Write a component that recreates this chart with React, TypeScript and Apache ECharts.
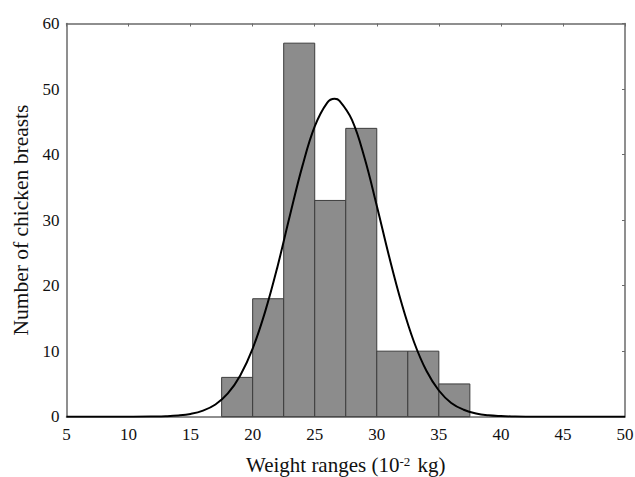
import React, { useEffect, useRef } from "react";
import * as echarts from "echarts";

const binStarts = [17.5, 20, 22.5, 25, 27.5, 30, 32.5, 35];
const binWidth = 2.5;
const counts = [6, 18, 57, 33, 44, 10, 10, 5];

const curveX = [5, 10, 12, 13, 14, 15, 16, 17, 18, 19, 20, 21, 22, 23, 24, 25, 26, 26.6, 27, 28, 29, 30, 31, 32, 33, 34, 35, 36, 37, 38, 39, 40, 41, 42, 45, 50];
const curveY = [0, 0, 0.03, 0.07, 0.18, 0.42, 0.92, 1.86, 3.55, 6.3, 10.4, 16.0, 22.9, 30.7, 38.2, 44.3, 47.9, 48.5, 48.2, 45.3, 39.6, 32.2, 24.4, 17.3, 11.4, 7.0, 4.0, 2.1, 1.06, 0.49, 0.21, 0.09, 0.03, 0, 0, 0];

const xTicks = [5, 10, 15, 20, 25, 30, 35, 40, 45, 50];
const yTicks = [0, 10, 20, 30, 40, 50, 60];

export default function App() {
  const ref = useRef<HTMLDivElement>(null);
  useEffect(() => {
    if (!ref.current) return;
    const chart = echarts.init(ref.current, undefined, { renderer: "svg" });
    const font = "'Liberation Serif', 'Times New Roman', serif";
    const axisLineColor = "#6a6a6a";
    const grid = { left: 66.5, top: 23.5, right: 10, bottom: 60.3, containLabel: false, outerBoundsMode: "none" };
    const barData = binStarts.map((s, i) => [s, s + binWidth, counts[i]]);
    const lineData = curveX.map((x, i) => [x, curveY[i]]);
    chart.setOption({
      animation: false,
      backgroundColor: "#ffffff",
      grid,
      xAxis: [
        {
          type: "value",
          min: xTicks[0],
          max: xTicks[xTicks.length - 1],
          interval: 5,
          position: "bottom",
          axisLine: { show: true, onZero: false, lineStyle: { color: axisLineColor, width: 1.5 } },
          axisTick: { show: false },
          splitLine: { show: false },
          axisLabel: { color: "#111", fontFamily: font, fontSize: 17, margin: 9 },
          name: "{n|Weight ranges (10}{s|-2}{n| kg)}",
          nameLocation: "middle",
          nameGap: 38,
          nameTextStyle: {
            rich: {
              n: { fontFamily: font, fontSize: 21, color: "#111" },
              s: { fontFamily: font, fontSize: 13, color: "#111", verticalAlign: "top", padding: [0, 2, 8, 0] },
            },
          },
        },
        {
          type: "value",
          min: xTicks[0],
          max: xTicks[xTicks.length - 1],
          interval: 5,
          position: "top",
          axisLine: { show: true, onZero: false, lineStyle: { color: axisLineColor, width: 1.5 } },
          axisTick: { show: true, inside: true, length: 3, lineStyle: { color: axisLineColor } },
          axisLabel: { show: false },
          splitLine: { show: false },
        },
      ],
      yAxis: [
        {
          type: "value",
          min: yTicks[0],
          max: yTicks[yTicks.length - 1],
          interval: 10,
          position: "left",
          axisLine: { show: true, onZero: false, lineStyle: { color: axisLineColor, width: 1.5 } },
          axisTick: { show: false },
          splitLine: { show: false },
          axisLabel: { color: "#111", fontFamily: font, fontSize: 17, margin: 7 },
          name: "Number of chicken breasts",
          nameLocation: "middle",
          nameGap: 34,
          nameTextStyle: { fontFamily: font, fontSize: 21.5, color: "#111" },
        },
        {
          type: "value",
          min: yTicks[0],
          max: yTicks[yTicks.length - 1],
          interval: 10,
          position: "right",
          axisLine: { show: true, onZero: false, lineStyle: { color: axisLineColor, width: 1.5 } },
          axisTick: { show: true, inside: true, length: 3, lineStyle: { color: axisLineColor } },
          axisLabel: { show: false },
          splitLine: { show: false },
        },
      ],
      series: [
        {
          type: "custom",
          xAxisIndex: 0,
          yAxisIndex: 0,
          data: barData,
          renderItem: (params: any, api: any) => {
            const x0 = api.value(0);
            const x1 = api.value(1);
            const v = api.value(2);
            const p0 = api.coord([x0, v]);
            const p1 = api.coord([x1, 0]);
            return {
              type: "rect",
              shape: { x: p0[0], y: p0[1], width: p1[0] - p0[0], height: p1[1] - p0[1] },
              style: { fill: "#8c8c8c", stroke: "#3c3c3c", lineWidth: 1 },
            };
          },
          z: 2,
        },
        {
          type: "line",
          xAxisIndex: 0,
          yAxisIndex: 0,
          data: lineData,
          smooth: 0.4,
          showSymbol: false,
          symbol: "none",
          lineStyle: { color: "#000", width: 2 },
          z: 3,
        },
      ],
    });
    return () => chart.dispose();
  }, []);
  return (
    <div
      ref={ref}
      style={{ position: "fixed", left: 0, top: 0, width: 635, height: 477, background: "#fff" }}
    />
  );
}
